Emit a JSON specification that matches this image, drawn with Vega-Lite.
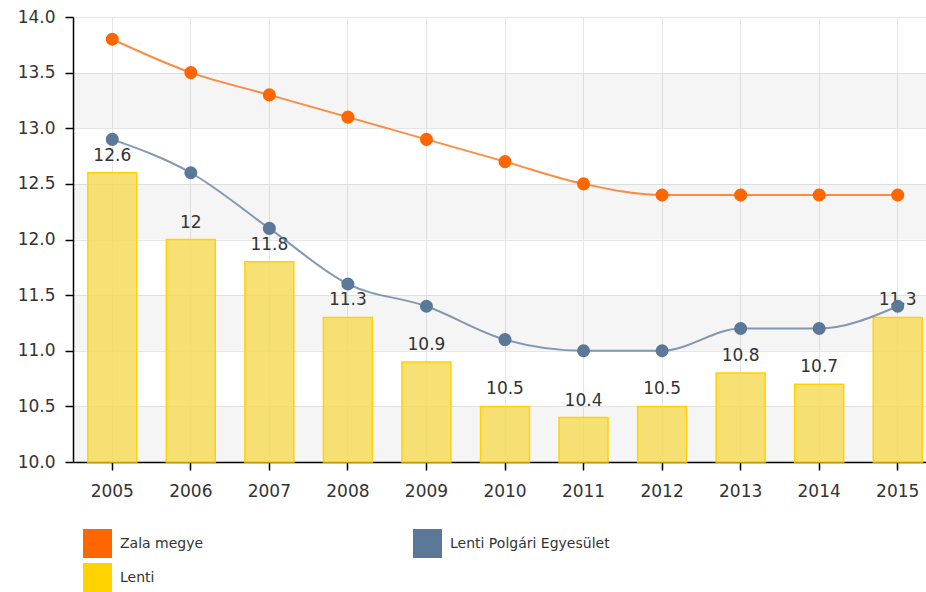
{
  "$schema": "https://vega.github.io/schema/vega-lite/v6.json",
  "width": 853,
  "height": 445,
  "autosize": {"type": "none"},
  "padding": {"left": 73, "top": 17, "right": 0, "bottom": 130},
  "background": "white",
  "config": {
    "view": {"stroke": null},
    "font": "DejaVu Sans",
    "axis": {"labelFont": "DejaVu Sans", "labelFontSize": 17, "labelColor": "#333", "gridColor": "#e6e6e6", "gridWidth": 1, "domainColor": "#000", "domainWidth": 1.5, "tickColor": "#000", "tickSize": 8, "tickWidth": 1.5, "title": null},
    "legend": {"labelFont": "DejaVu Sans"}
  },
  "datasets": {
    "main": [
      {"year": "2005", "series": "Zala megye", "value": 13.8},
      {"year": "2006", "series": "Zala megye", "value": 13.5},
      {"year": "2007", "series": "Zala megye", "value": 13.3},
      {"year": "2008", "series": "Zala megye", "value": 13.1},
      {"year": "2009", "series": "Zala megye", "value": 12.9},
      {"year": "2010", "series": "Zala megye", "value": 12.7},
      {"year": "2011", "series": "Zala megye", "value": 12.5},
      {"year": "2012", "series": "Zala megye", "value": 12.4},
      {"year": "2013", "series": "Zala megye", "value": 12.4},
      {"year": "2014", "series": "Zala megye", "value": 12.4},
      {"year": "2015", "series": "Zala megye", "value": 12.4},
      {"year": "2005", "series": "Lenti Polgári Egyesület", "value": 12.9},
      {"year": "2006", "series": "Lenti Polgári Egyesület", "value": 12.6},
      {"year": "2007", "series": "Lenti Polgári Egyesület", "value": 12.1},
      {"year": "2008", "series": "Lenti Polgári Egyesület", "value": 11.6},
      {"year": "2009", "series": "Lenti Polgári Egyesület", "value": 11.4},
      {"year": "2010", "series": "Lenti Polgári Egyesület", "value": 11.1},
      {"year": "2011", "series": "Lenti Polgári Egyesület", "value": 11.0},
      {"year": "2012", "series": "Lenti Polgári Egyesület", "value": 11.0},
      {"year": "2013", "series": "Lenti Polgári Egyesület", "value": 11.2},
      {"year": "2014", "series": "Lenti Polgári Egyesület", "value": 11.2},
      {"year": "2015", "series": "Lenti Polgári Egyesület", "value": 11.4},
      {"year": "2005", "series": "Lenti", "value": 12.6},
      {"year": "2006", "series": "Lenti", "value": 12},
      {"year": "2007", "series": "Lenti", "value": 11.8},
      {"year": "2008", "series": "Lenti", "value": 11.3},
      {"year": "2009", "series": "Lenti", "value": 10.9},
      {"year": "2010", "series": "Lenti", "value": 10.5},
      {"year": "2011", "series": "Lenti", "value": 10.4},
      {"year": "2012", "series": "Lenti", "value": 10.5},
      {"year": "2013", "series": "Lenti", "value": 10.8},
      {"year": "2014", "series": "Lenti", "value": 10.7},
      {"year": "2015", "series": "Lenti", "value": 11.3}
    ],
    "bands": [
      {"lo": 10, "hi": 10.5},
      {"lo": 11, "hi": 11.5},
      {"lo": 12, "hi": 12.5},
      {"lo": 13, "hi": 13.5}
    ]
  },
  "layer": [
    {
      "data": {"name": "bands"},
      "mark": {"type": "rect", "fill": "#000", "fillOpacity": 0.04},
      "encoding": {
        "y": {"field": "lo", "type": "quantitative", "scale": {"domain": [10, 14], "nice": false, "zero": false}},
        "y2": {"field": "hi"},
        "x": {"value": 0},
        "x2": {"value": "width"}
      }
    },
    {
      "data": {"name": "main"},
      "transform": [{"filter": "datum.series === 'Lenti'"}],
      "mark": {"type": "bar", "fill": "#f7dc5c", "fillOpacity": 0.85, "stroke": "#ffd200", "strokeWidth": 1.5},
      "encoding": {
        "x": {"field": "year", "type": "ordinal", "scale": {"range": [0, 864], "paddingInner": 0.377, "paddingOuter": 0.1885},
          "axis": {"labelAngle": 0, "grid": true, "labelPadding": 13, "domainWidth": 1.5}},
        "y": {"field": "value", "type": "quantitative", "scale": {"domain": [10, 14], "nice": false, "zero": false},
          "axis": {"values": [10, 10.5, 11, 11.5, 12, 12.5, 13, 13.5, 14], "format": ".1f", "grid": true, "labelPadding": 10}},
        "y2": {"datum": 10}
      }
    },
    {
      "data": {"name": "main"},
      "transform": [{"filter": "datum.series === 'Lenti'"}],
      "mark": {"type": "text", "baseline": "alphabetic", "dy": -12, "fontSize": 17, "color": "#333", "font": "DejaVu Sans"},
      "encoding": {
        "x": {"field": "year", "type": "ordinal"},
        "y": {"field": "value", "type": "quantitative"},
        "text": {"field": "value", "type": "quantitative"}
      }
    },
    {
      "data": {"name": "main"},
      "transform": [{"filter": "datum.series !== 'Lenti'"}],
      "mark": {"type": "line", "interpolate": "monotone", "strokeWidth": 2, "strokeOpacity": 0.75},
      "encoding": {
        "x": {"field": "year", "type": "ordinal"},
        "y": {"field": "value", "type": "quantitative"},
        "stroke": {"field": "series", "type": "nominal", "legend": null,
          "scale": {"domain": ["Zala megye", "Lenti Polgári Egyesület"], "range": ["#ff6600", "#5b7899"]}}
      }
    },
    {
      "data": {"name": "main"},
      "transform": [{"filter": "datum.series !== 'Lenti'"}],
      "mark": {"type": "point", "filled": true, "size": 170, "opacity": 1, "shape": "circle"},
      "encoding": {
        "x": {"field": "year", "type": "ordinal"},
        "y": {"field": "value", "type": "quantitative"},
        "color": {"field": "series", "type": "nominal",
          "scale": {"domain": ["Zala megye", "Lenti Polgári Egyesület", "Lenti"], "range": ["#ff6600", "#5b7899", "#ffd200"]},
          "legend": {"title": null, "orient": "none", "legendX": 10, "legendY": 512, "columns": 2, "direction": "horizontal",
            "symbolType": "square", "symbolSize": 841, "symbolStrokeWidth": 0, "symbolOpacity": 1,
            "labelFontSize": 14, "labelColor": "#333", "labelOffset": 8, "rowPadding": 5, "columnPadding": 209, "padding": 0, "labelLimit": 300}}
      }
    }
  ]
}
